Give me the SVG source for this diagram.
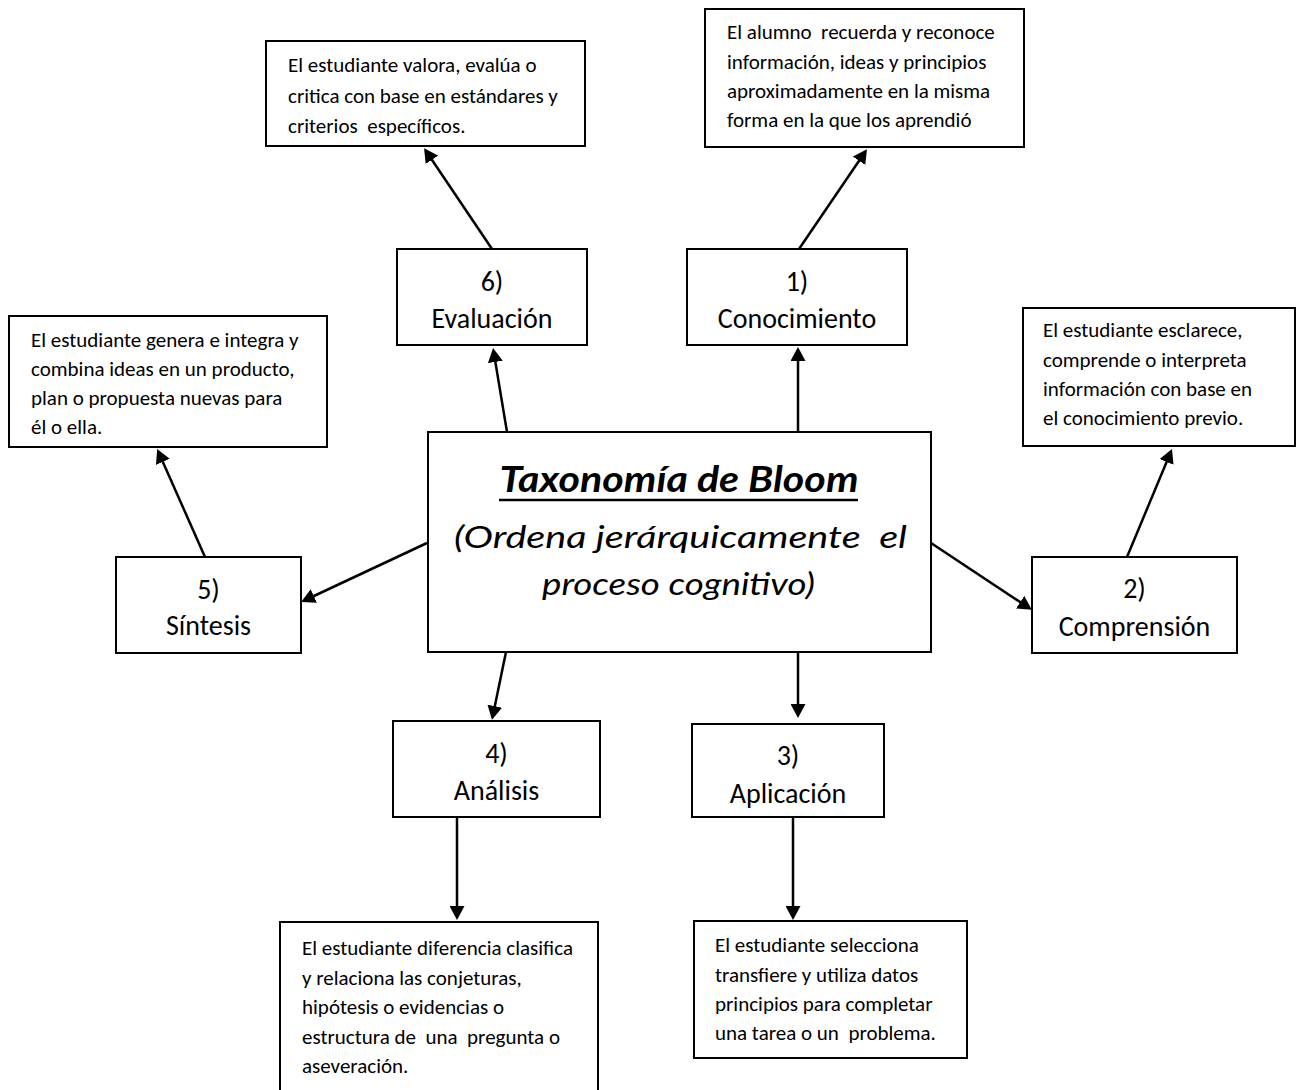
<svg xmlns="http://www.w3.org/2000/svg" width="1296" height="1090" viewBox="0 0 1296 1090">
<style>
.box{fill:#fff;stroke:#000;stroke-width:2}
.desc{font-family:Carlito,Lato,"Liberation Sans",sans-serif;font-size:21px;fill:#000;white-space:pre}
.lbl{font-family:Carlito,Lato,"Liberation Sans",sans-serif;font-size:28px;fill:#000;text-anchor:middle}
.hand{font-family:"Segoe Print","Comic Sans MS",Lato,cursive;font-style:italic;fill:#000;white-space:pre}
#connectors line{stroke:#000;stroke-width:2.5;fill:none}
</style>
<defs>
<marker id="ah" viewBox="0 0 14 15" refX="7" refY="7.5" markerWidth="14" markerHeight="15" markerUnits="userSpaceOnUse" orient="auto">
<path d="M0,0 L14,7.5 L0,15 z" fill="#000"/>
</marker>
</defs>
<rect width="1296" height="1090" fill="#fff"/>

<g id="connectors">
<line x1="798" y1="432" x2="798" y2="354" marker-end="url(#ah)"/>
<line x1="799" y1="249" x2="863" y2="155" marker-end="url(#ah)"/>
<line x1="507" y1="432" x2="494.2" y2="355" marker-end="url(#ah)"/>
<line x1="492" y1="249" x2="428" y2="154" marker-end="url(#ah)"/>
<line x1="427" y1="543" x2="307.5" y2="599" marker-end="url(#ah)"/>
<line x1="205" y1="557" x2="160" y2="455.5" marker-end="url(#ah)"/>
<line x1="931" y1="543" x2="1026" y2="606" marker-end="url(#ah)"/>
<line x1="1127" y1="557" x2="1169.3" y2="455.5" marker-end="url(#ah)"/>
<line x1="506" y1="652" x2="493.4" y2="713" marker-end="url(#ah)"/>
<line x1="798" y1="652" x2="798" y2="711" marker-end="url(#ah)"/>
<line x1="457" y1="817" x2="457" y2="913" marker-end="url(#ah)"/>
<line x1="793" y1="817" x2="793" y2="913" marker-end="url(#ah)"/>
</g>

<g id="center">
<rect class="box" x="428" y="432" width="503" height="220"/>
<text class="hand" x="679" y="492" font-size="36" font-weight="bold" text-anchor="middle" textLength="359" lengthAdjust="spacingAndGlyphs">Taxonomía de Bloom</text>
<line x1="499" y1="500" x2="858" y2="500" stroke="#000" stroke-width="2.5"/>
<text class="hand" x="454" y="548" font-size="30" textLength="453" lengthAdjust="spacingAndGlyphs">(Ordena jerárquicamente  el</text>
<text class="hand" x="542" y="595" font-size="30" textLength="273" lengthAdjust="spacingAndGlyphs">proceso cognitivo)</text>
</g>

<g id="n1">
<rect class="box" x="687" y="249" width="220" height="96"/>
<text class="lbl" x="797" y="291">1)</text>
<text class="lbl" x="797" y="328">Conocimiento</text>
</g>
<g id="d1">
<rect class="box" x="705" y="9" width="319" height="138"/>
<text class="desc" x="727" y="39">El alumno  recuerda y reconoce</text>
<text class="desc" x="727" y="69">información, ideas y principios</text>
<text class="desc" x="727" y="98">aproximadamente en la misma</text>
<text class="desc" x="727" y="127">forma en la que los aprendió</text>
</g>

<g id="n2">
<rect class="box" x="1032" y="557" width="205" height="96"/>
<text class="lbl" x="1134.5" y="598">2)</text>
<text class="lbl" x="1134.5" y="636">Comprensión</text>
</g>
<g id="d2">
<rect class="box" x="1023" y="308" width="272" height="138"/>
<text class="desc" x="1043" y="337">El estudiante esclarece,</text>
<text class="desc" x="1043" y="367">comprende o interpreta</text>
<text class="desc" x="1043" y="396">información con base en</text>
<text class="desc" x="1043" y="425">el conocimiento previo.</text>
</g>

<g id="n3">
<rect class="box" x="692" y="724" width="192" height="93"/>
<text class="lbl" x="788" y="765">3)</text>
<text class="lbl" x="788" y="803">Aplicación</text>
</g>
<g id="d3">
<rect class="box" x="694" y="921" width="273" height="137"/>
<text class="desc" x="715" y="952">El estudiante selecciona</text>
<text class="desc" x="715" y="982">transfiere y utiliza datos</text>
<text class="desc" x="715" y="1011">principios para completar</text>
<text class="desc" x="715" y="1040">una tarea o un  problema.</text>
</g>

<g id="n4">
<rect class="box" x="393" y="721" width="207" height="96"/>
<text class="lbl" x="496.5" y="763">4)</text>
<text class="lbl" x="496.5" y="800">Análisis</text>
</g>
<g id="d4">
<rect class="box" x="280" y="922" width="318" height="172"/>
<text class="desc" x="302" y="955">El estudiante diferencia clasifica</text>
<text class="desc" x="302" y="985">y relaciona las conjeturas,</text>
<text class="desc" x="302" y="1014">hipótesis o evidencias o</text>
<text class="desc" x="302" y="1044">estructura de  una  pregunta o</text>
<text class="desc" x="302" y="1073">aseveración.</text>
</g>

<g id="n5">
<rect class="box" x="116" y="557" width="185" height="96"/>
<text class="lbl" x="208.5" y="599">5)</text>
<text class="lbl" x="208.5" y="635">Síntesis</text>
</g>
<g id="d5">
<rect class="box" x="9" y="316" width="318" height="131"/>
<text class="desc" x="31" y="347">El estudiante genera e integra y</text>
<text class="desc" x="31" y="376">combina ideas en un producto,</text>
<text class="desc" x="31" y="405">plan o propuesta nuevas para</text>
<text class="desc" x="31" y="434">él o ella.</text>
</g>

<g id="n6">
<rect class="box" x="397" y="249" width="190" height="96"/>
<text class="lbl" x="492" y="291">6)</text>
<text class="lbl" x="492" y="328">Evaluación</text>
</g>
<g id="d6">
<rect class="box" x="266" y="41" width="319" height="105"/>
<text class="desc" x="288" y="72">El estudiante valora, evalúa o</text>
<text class="desc" x="288" y="103">critica con base en estándares y</text>
<text class="desc" x="288" y="133">criterios  específicos.</text>
</g>
</svg>
